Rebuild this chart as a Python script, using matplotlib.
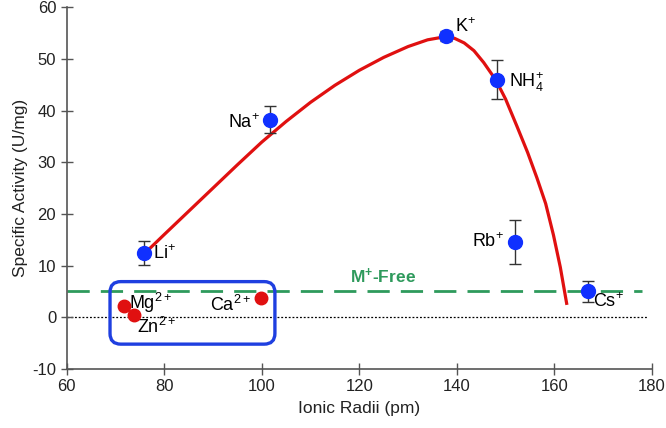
import matplotlib.pyplot as plt
from matplotlib.patches import FancyBboxPatch

plt.rcParams['font.family'] = ['Liberation Sans', 'DejaVu Sans']
plt.rcParams['mathtext.fontset'] = 'custom'
plt.rcParams['mathtext.rm'] = 'Liberation Sans'
plt.rcParams['mathtext.it'] = 'Liberation Sans'
plt.rcParams['mathtext.bf'] = 'Liberation Sans:bold'
plt.rcParams['axes.unicode_minus'] = False

# monovalent ions (blue) with error bars
ions = ['Li$^{+}$', 'Na$^{+}$', 'K$^{+}$', 'NH$_4^{+}$', 'Rb$^{+}$', 'Cs$^{+}$']
radii = [75.9, 101.7, 137.8, 148.2, 152.0, 166.8]
activity = [12.4, 38.2, 54.5, 46.0, 14.6, 5.0]
errors = [2.3, 2.6, 1.0, 3.8, 4.3, 2.1]

# divalent ions (red)
div_ions = ['Mg$^{2+}$', 'Zn$^{2+}$', 'Ca$^{2+}$']
div_radii = [71.8, 73.8, 99.8]
div_activity = [2.2, 0.45, 3.7]

# fitted curve
fit_x = [76.7, 80, 85, 90, 95, 100, 105, 110, 115, 120, 125, 130, 134, 137,
         139.5, 141.5, 143.5, 145.5, 148, 150, 152.3, 154.5, 156.4, 158.2,
         159.8, 161.2, 162.5]
fit_y = [13.0, 16.0, 20.5, 25.0, 29.5, 33.9, 37.9, 41.6, 44.9, 47.8, 50.3, 52.4, 53.7, 54.2,
         54.0, 53.1, 51.6, 49.3, 45.9, 42.2, 37.0, 31.9, 27.0, 22.0,
         15.9, 9.7, 2.7]

mfree = 5.0

fig = plt.figure(figsize=(6.66, 4.28), dpi=100)
ax = fig.add_axes([0.100, 0.138, 0.879, 0.845])

ax.plot([60, 179], [0, 0], color='black', lw=0.9, ls=(0, (1.5, 1.5)), zorder=1)
ax.plot([60, 178], [mfree, mfree], color='#2e9a5c', lw=2.0, dashes=(8, 4), zorder=1)
ax.text(124.8, 7.9, r'M$^{\mathbf{+}}$-Free', color='#2e9a5c', fontsize=12.5, fontweight='bold',
        ha='center', va='center')

box = FancyBboxPatch((68.9, -5.2), 33.8, 12.1, boxstyle='round,pad=0,rounding_size=2.2',
                     mutation_aspect=0.94, fill=False, edgecolor='#1f3fe0', lw=2.4, zorder=2)
ax.add_patch(box)

ax.plot(fit_x, fit_y, color='#e01010', lw=2.3, zorder=3, solid_joinstyle='round')

ax.errorbar(radii, activity, yerr=errors, fmt='o', color='#1030ff', ms=10,
            ecolor='#333333', elinewidth=1.0, capsize=4, capthick=1.0, zorder=4)
ax.plot(div_radii, div_activity, 'o', color='#e01010', ms=9, zorder=4)

fs = 13
ax.text(77.7, 12.4, ions[0], fontsize=fs, ha='left', va='center')
ax.text(99.6, 37.6, ions[1], fontsize=fs, ha='right', va='center')
ax.text(139.7, 56.2, ions[2], fontsize=fs, ha='left', va='center')
ax.text(150.6, 45.6, ions[3], fontsize=fs, ha='left', va='center')
ax.text(149.6, 14.6, ions[4], fontsize=fs, ha='right', va='center')
ax.text(168.0, 3.0, ions[5], fontsize=fs, ha='left', va='center')
ax.text(72.8, 2.8, div_ions[0], fontsize=fs, ha='left', va='center')
ax.text(74.4, -1.9, div_ions[1], fontsize=fs, ha='left', va='center')
ax.text(97.9, 2.3, div_ions[2], fontsize=fs, ha='right', va='center')

ax.set_xlim(60, 180)
ax.set_ylim(-10, 60)
ax.set_xticks(range(60, 181, 20))
ax.set_yticks(range(-10, 61, 10))
ax.spines['top'].set_visible(False)
ax.spines['right'].set_visible(False)
for s in ['left', 'bottom']:
    ax.spines[s].set_color('#555555')
    ax.spines[s].set_linewidth(1.2)
ax.tick_params(direction='inout', length=8, width=1.0, color='#555555',
               labelsize=12, labelcolor='#222222')
ax.set_xlabel('Ionic Radii (pm)', fontsize=12.5, color='#222222', labelpad=5)
ax.set_ylabel('Specific Activity (U/mg)', fontsize=12.5, color='#222222', labelpad=3)

plt.savefig('out.png', dpi=100)
